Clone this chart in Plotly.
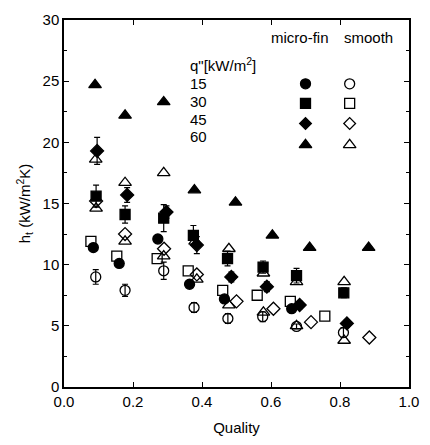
import plotly.graph_objects as go

# ---- data (Quality, h) ----
mf15_q = [0.085, 0.160, 0.272, 0.364, 0.465, 0.660]
mf15_h = [11.4, 10.1, 12.1, 8.4, 7.2, 6.4]

sm15_q = [0.092, 0.177, 0.289, 0.377, 0.475, 0.576, 0.674, 0.810]
sm15_h = [9.0, 7.9, 9.5, 6.5, 5.6, 5.75, 4.95, 4.45]
sm15_e = [0.6, 0.5, 0.7, 0.4, 0.4, 0.4, 0.2, 0.4]

mf30_q = [0.093, 0.177, 0.289, 0.375, 0.474, 0.577, 0.674, 0.811]
mf30_h = [15.6, 14.1, 13.8, 12.4, 10.5, 9.8, 9.1, 7.7]
mf30_e = [0.9, 0.7, 1.1, 0.8, 0.6, 0.5, 0.6, 0.4]

sm30_q = [0.078, 0.153, 0.270, 0.360, 0.460, 0.560, 0.656, 0.756]
sm30_h = [11.9, 10.7, 10.5, 9.5, 7.9, 7.5, 7.0, 5.8]

mf45_q = [0.096, 0.183, 0.297, 0.385, 0.485, 0.588, 0.683, 0.820]
mf45_h = [19.3, 15.7, 14.3, 11.6, 9.0, 8.2, 6.7, 5.2]
mf45_e = [1.1, 0.6, 0.5, 0.7, 0.4, 0.4, 0.3, 0.3]

sm45_q = [0.093, 0.177, 0.290, 0.385, 0.500, 0.607, 0.716, 0.885]
sm45_h = [15.2, 12.5, 11.3, 9.2, 7.0, 6.4, 5.3, 4.05]

mf60_q = [0.090, 0.177, 0.289, 0.378, 0.497, 0.604, 0.712, 0.883]
mf60_h = [24.7, 22.2, 23.3, 16.1, 15.1, 12.4, 11.4, 11.4]

sm60_q = [0.092, 0.177, 0.289, 0.380, 0.478, 0.578, 0.674, 0.812,
          0.093, 0.177, 0.289, 0.385, 0.478, 0.578, 0.674, 0.812]
sm60_h = [18.6, 16.7, 17.5, 11.9, 11.3, 9.3, 8.6, 8.6,
          14.6, 11.9, 10.7, 8.8, 6.7, 6.1, 5.0, 3.8]

x_ticks = [0.0, 0.2, 0.4, 0.6, 0.8, 1.0]
x_tick_labels = ["0.0", "0.2", "0.4", "0.6", "0.8", "1.0"]
y_ticks = [0, 5, 10, 15, 20, 25, 30]

legend_q = ["15", "30", "45", "60"]
legend_symbols = ["circle", "square", "diamond", "triangle-up"]

FONT = "Liberation Sans, Arial, sans-serif"
BLK = "black"

fig = go.Figure()

def add(q, h, sym, filled, size, err=None):
    marker = dict(symbol=sym if filled else sym + "-open", size=size,
                  color=BLK, line=dict(color=BLK, width=1.3))
    kw = {}
    if err is not None:
        kw["error_y"] = dict(type="data", array=err, visible=True,
                             color=BLK, thickness=1.2, width=3)
    fig.add_trace(go.Scatter(x=q, y=h, mode="markers", marker=marker,
                             showlegend=False, **kw))

add(sm60_q, sm60_h, "triangle-up", False, 11)
add(sm45_q, sm45_h, "diamond", False, 10)
add(sm30_q, sm30_h, "square", False, 10)
add(sm15_q, sm15_h, "circle", False, 10, sm15_e)
add(mf15_q, mf15_h, "circle", True, 10)
add(mf30_q, mf30_h, "square", True, 10, mf30_e)
add(mf45_q, mf45_h, "diamond", True, 10, mf45_e)
add(mf60_q, mf60_h, "triangle-up", True, 11)

# ---- in-plot legend (paper coordinates on overlay axes) ----
leg_mark_y = [0.826, 0.773, 0.718, 0.660]
leg_text_y = [0.826, 0.778, 0.730, 0.682]
leg_fill_x = 0.700
leg_open_x = 0.828
for i, sym in enumerate(legend_symbols):
    sz = 11 if sym == "triangle-up" else (9 if sym == "diamond" else 10)
    fig.add_trace(go.Scatter(x=[leg_fill_x], y=[leg_mark_y[i]], xaxis="x2", yaxis="y2",
                             mode="markers", showlegend=False,
                             marker=dict(symbol=sym, size=sz, color=BLK,
                                         line=dict(color=BLK, width=1.3))))
    fig.add_trace(go.Scatter(x=[leg_open_x], y=[leg_mark_y[i]], xaxis="x2", yaxis="y2",
                             mode="markers", showlegend=False,
                             marker=dict(symbol=sym + "-open", size=sz, color=BLK,
                                         line=dict(color=BLK, width=1.3))))
    fig.add_annotation(xref="paper", yref="paper", x=0.36, y=leg_text_y[i],
                       text=legend_q[i], showarrow=False, xanchor="left", yanchor="middle",
                       font=dict(family=FONT, size=15, color=BLK))

fig.add_annotation(xref="paper", yref="paper", x=0.36, y=0.88,
                   text="q\"[kW/m<sup>2</sup>]", showarrow=False, xanchor="left",
                   yanchor="middle", font=dict(family=FONT, size=15, color=BLK))
fig.add_annotation(xref="paper", yref="paper", x=0.685, y=0.953,
                   text="micro-fin", showarrow=False, xanchor="center", yanchor="middle",
                   font=dict(family=FONT, size=15, color=BLK))
fig.add_annotation(xref="paper", yref="paper", x=0.883, y=0.953,
                   text="smooth", showarrow=False, xanchor="center", yanchor="middle",
                   font=dict(family=FONT, size=15, color=BLK))

axis_common = dict(showgrid=False, zeroline=False, showline=True, linecolor=BLK,
                   linewidth=1.5, mirror="ticks", ticks="inside", ticklen=5,
                   tickwidth=1, tickcolor=BLK,
                   tickfont=dict(family=FONT, size=15, color=BLK))

fig.update_layout(
    width=430, height=445,
    margin=dict(l=64, r=11, t=16, b=55),
    paper_bgcolor="white", plot_bgcolor="white",
    xaxis=dict(range=[0, 1], tickvals=x_ticks, ticktext=x_tick_labels,
               title=dict(text="Quality", font=dict(family=FONT, size=15, color=BLK),
                          standoff=14),
               **axis_common),
    yaxis=dict(range=[0, 30], tickvals=y_ticks,
               minor=dict(dtick=2.5, ticks="inside", ticklen=3, tickcolor=BLK),
               title=dict(text="h<sub>t</sub> (kW/m<sup>2</sup>K)",
                          font=dict(family=FONT, size=15, color=BLK), standoff=8),
               **axis_common),
    xaxis2=dict(range=[0, 1], overlaying="x", visible=False),
    yaxis2=dict(range=[0, 1], overlaying="y", visible=False),
)

fig.write_html("out.html")
